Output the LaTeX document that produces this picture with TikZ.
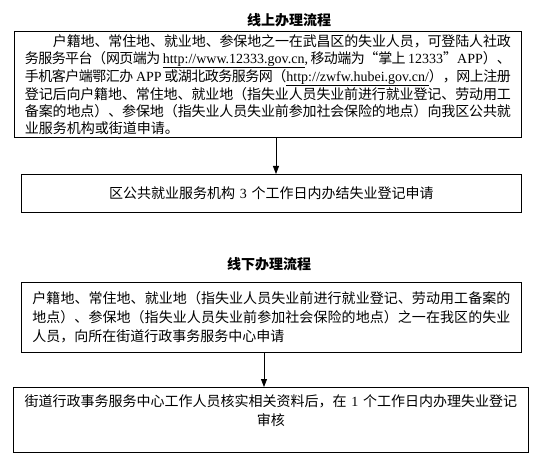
\documentclass[tikz,border=0pt]{standalone}
\usepackage{fontspec}
\setmainfont{Noto Sans CJK SC}
\newfontfamily\lat{Liberation Serif}
\usetikzlibrary{arrows.meta}
\XeTeXlinebreaklocale "zh"
\XeTeXlinebreakskip=0pt plus 2pt minus 1pt
\XeTeXlinebreakpenalty=10000
\newcommand{\nostr}{\XeTeXlinebreakskip=0pt\relax}
\begin{document}
\begin{tikzpicture}[x=1pt,y=-1pt,
  box/.style={draw, line width=0.8pt, rectangle, anchor=north west, inner ysep=3pt},
  ttl/.style={font=\fontsize{14pt}{17pt}\selectfont\bfseries, inner sep=0pt},
  cbox/.style={box, align=center, font=\fontsize{14pt}{19pt}\selectfont},
  arr/.style={-{Triangle[length=8pt,width=6pt]}, line width=0.8pt}]
\useasboundingbox (0,0) rectangle (547,476);
\node[ttl] (t1) at (289,20) {线上办理流程};
\node[box, minimum width=507pt, minimum height=105pt, text width=486pt, inner xsep=10.5pt,
  align=justify, font=\fontsize{14pt}{17pt}\selectfont] (b1) at (14,31)
 {\hspace*{2em}户籍地、常住地、就业地、参保地之一在武昌区的失业人员，可登陆人社政\linebreak
 务服务平台（网页端为~{\lat\underline{http://www.12333.gov.cn},}~移动端为“掌上~{\lat 12333}”{\lat APP}）、\linebreak
 手机客户端鄂汇办~{\lat APP}~或湖北政务服务网（{\lat\underline{http://zwfw.hubei.gov.cn/}}），网上注册\linebreak
 登记后向户籍地、常住地、就业地（指失业人员失业前进行就业登记、劳动用工\linebreak
 备案的地点）、参保地（指失业人员失业前参加社会保险的地点）向我区公共就\linebreak
 业服务机构或街道申请。};
\node[cbox, minimum width=500pt, minimum height=38pt, text width=480pt, inner xsep=10pt] (b2) at (21,174)
 {\nostr 区公共就业服务机构~{\lat 3}~个工作日内办结失业登记申请};
\coordinate (x1) at (276,0);
\draw[arr] (b1.south -| x1) -- (b2.north -| x1);

\node[ttl] (t2) at (269,264) {线下办理流程};
\node[box, minimum width=500pt, minimum height=70pt, text width=478pt, inner xsep=11pt,
  align=justify, font=\fontsize{14pt}{19pt}\selectfont] (b3) at (21,282)
 {户籍地、常住地、就业地（指失业人员失业前进行就业登记、劳动用工备案的\linebreak
 地点）、参保地（指失业人员失业前参加社会保险的地点）之一在我区的失业\linebreak
 人员，向所在街道行政事务服务中心申请};
\node[cbox, minimum width=515pt, minimum height=65pt, text width=500pt, inner xsep=7.5pt] (b4) at (13,387)
 {\nostr 街道行政事务服务中心工作人员核实相关资料后，在~{\lat 1}~个工作日内办理失业登记\\
 审核\\ \mbox{}};
\coordinate (x2) at (264,0);
\draw[arr] (b3.south -| x2) -- (b4.north -| x2);
\end{tikzpicture}
\end{document}
